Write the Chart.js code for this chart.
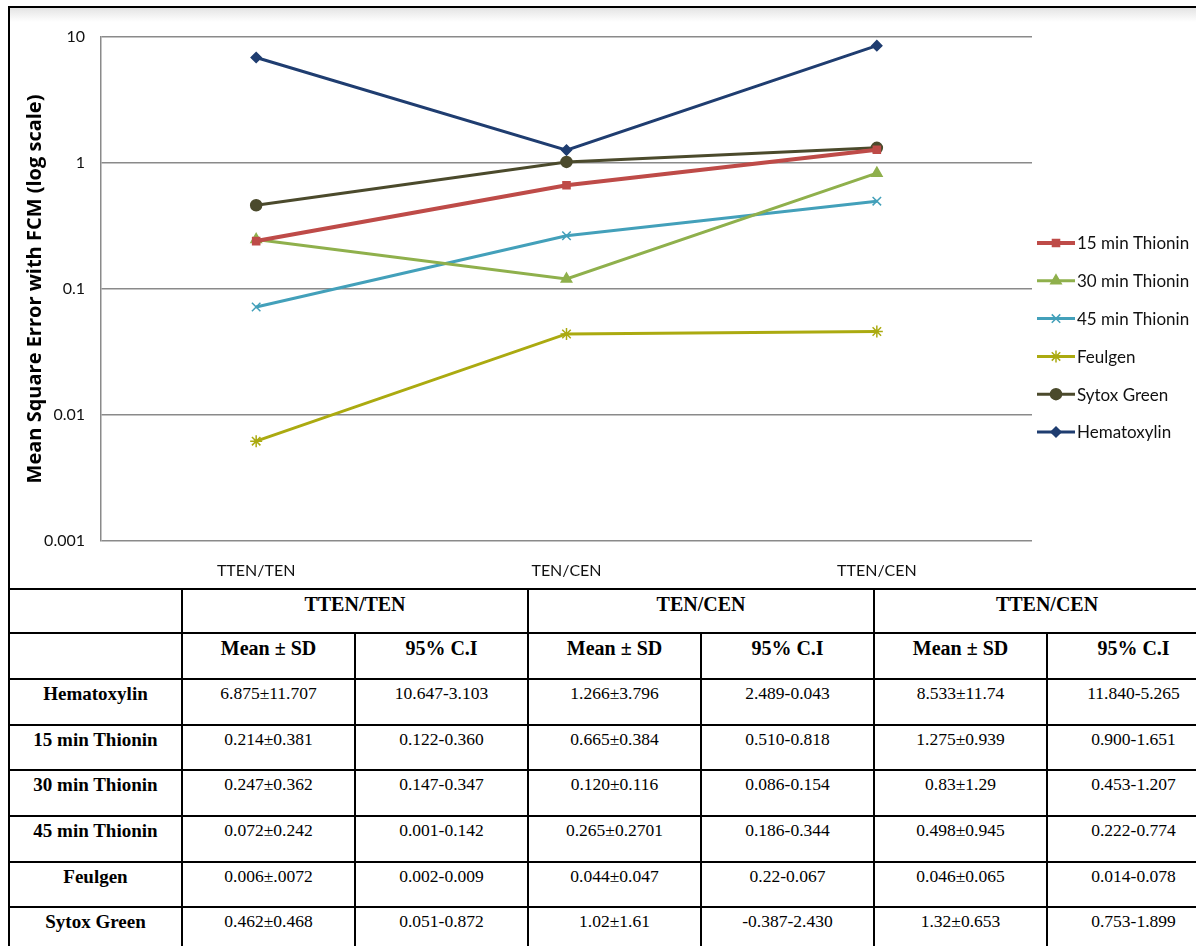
<!DOCTYPE html>
<html>
<head>
<meta charset="utf-8">
<script src="https://cdn.jsdelivr.net/npm/chart.js@4.4.1/dist/chart.umd.min.js"></script>
<style>
  html, body { margin: 0; padding: 0; background: #fff; overflow: hidden; width: 1196px; height: 946px; }
  #wrap { position: absolute; left: 8px; top: 6px; width: 1200px; }
  #chartBox {
    position: relative; width: 1198px; height: 580px;
    border-left: 2px solid #000; border-top: 2px solid #000;
    background: linear-gradient(#e4e4e4 0px, #ffffff 14px);
  }
  #chartBox canvas { position: absolute; left: 0; top: 0; }
  table { border-collapse: collapse; font-family: "Liberation Serif", "Times New Roman", serif; font-size: 17.5px; color: #000; table-layout: fixed; }
  td, th { border: 2px solid #000; text-align: center; vertical-align: top; padding: 3px 2px 0 2px; height: 40px; box-sizing: border-box; }
  th { font-weight: bold; font-size: 20px; }
  td.rowhead { font-weight: bold; font-size: 19px; }
</style>
</head>
<body>
<div id="wrap">
  <div id="chartBox"><canvas id="mseChart" width="1188" height="580"></canvas></div>
  <table id="statsTable"></table>
</div>
<script>
// categories on the x axis
const categories = ['TTEN/TEN', 'TEN/CEN', 'TTEN/CEN'];

// mean square error per stain
const thionin15 = [0.24, 0.665, 1.275];
const thionin30 = [0.247, 0.120, 0.83];
const thionin45 = [0.072, 0.265, 0.498];
const feulgen = [0.0062, 0.044, 0.046];
const sytoxGreen = [0.462, 1.02, 1.32];
const hematoxylin = [6.875, 1.266, 8.533];

// y axis ticks (log scale)
const yTickValues = [0.001, 0.01, 0.1, 1, 10];
const yTickLabels = ['0.001', '0.01', '0.1', '1', '10'];

// table contents
const tableGroups = ['TTEN/TEN', 'TEN/CEN', 'TTEN/CEN'];
const tableRowNames = ['Hematoxylin', '15 min Thionin', '30 min Thionin', '45 min Thionin', 'Feulgen', 'Sytox Green'];
const tableMeanSD = [
    ['6.875±11.707', '1.266±3.796', '8.533±11.74'],
    ['0.214±0.381', '0.665±0.384', '1.275±0.939'],
    ['0.247±0.362', '0.120±0.116', '0.83±1.29'],
    ['0.072±0.242', '0.265±0.2701', '0.498±0.945'],
    ['0.006±.0072', '0.044±0.047', '0.046±0.065'],
    ['0.462±0.468', '1.02±1.61', '1.32±0.653'],
];
const tableCI = [
    ['10.647-3.103', '2.489-0.043', '11.840-5.265'],
    ['0.122-0.360', '0.510-0.818', '0.900-1.651'],
    ['0.147-0.347', '0.086-0.154', '0.453-1.207'],
    ['0.001-0.142', '0.186-0.344', '0.222-0.774'],
    ['0.002-0.009', '0.22-0.067', '0.014-0.078'],
    ['0.051-0.872', '-0.387-2.430', '0.753-1.899'],
];

function buildTable() {
    const colWidths = [173, 173, 173, 173, 173, 173, 173];
    const table = document.getElementById('statsTable');
    const cg = document.createElement('colgroup');
    colWidths.forEach(w => {
        const c = document.createElement('col');
        c.style.width = w + 'px';
        cg.appendChild(c);
    });
    table.appendChild(cg);
    table.style.width = colWidths.reduce((a, b) => a + b, 0) + 'px';

    let tr = document.createElement('tr');
    tr.appendChild(document.createElement('th'));
    tableGroups.forEach(g => {
        const th = document.createElement('th');
        th.colSpan = 2;
        th.textContent = g;
        tr.appendChild(th);
    });
    tr.style.height = '44px';
    table.appendChild(tr);

    tr = document.createElement('tr');
    tr.appendChild(document.createElement('th'));
    tableGroups.forEach(() => {
        ['Mean ± SD', '95% C.I'].forEach(h => {
            const th = document.createElement('th');
            th.textContent = h;
            tr.appendChild(th);
        });
    });
    tr.style.height = '46px';
    table.appendChild(tr);

    tableRowNames.forEach((name, i) => {
        const row = document.createElement('tr');
        row.style.height = '45.7px';
        const h = document.createElement('td');
        h.className = 'rowhead';
        h.textContent = name;
        row.appendChild(h);
        for (let j = 0; j < tableGroups.length; j++) {
            const a = document.createElement('td');
            a.textContent = tableMeanSD[i][j];
            row.appendChild(a);
            const b = document.createElement('td');
            b.textContent = tableCI[i][j];
            row.appendChild(b);
        }
        table.appendChild(row);
    });
}

// legend drawn as line + marker, like the spreadsheet legend
const sideLegend = {
    id: 'sideLegend',
    afterDraw(chart) {
        const ctx = chart.ctx;
        const x0 = 1027, lineLen = 38, yStart = 235, step = 37.8;
        ctx.save();
        chart.data.datasets.forEach((ds, i) => {
            const y = yStart + i * step;
            ctx.strokeStyle = ds.borderColor;
            ctx.lineWidth = ds.borderWidth;
            ctx.beginPath();
            ctx.moveTo(x0, y);
            ctx.lineTo(x0 + lineLen, y);
            ctx.stroke();
            ctx.fillStyle = ds.pointBackgroundColor;
            ctx.strokeStyle = ds.pointBorderColor;
            ctx.lineWidth = ds.pointBorderWidth;
            Chart.helpers.drawPoint(ctx, {pointStyle: ds.pointStyle, radius: ds.pointRadius, rotation: 0, borderWidth: ds.pointBorderWidth}, x0 + lineLen / 2, y);
            ctx.fillStyle = '#111';
            ctx.font = '17px Lato, "Open Sans", sans-serif';
            ctx.textBaseline = 'middle';
            ctx.textAlign = 'left';
            ctx.fillText(ds.label, x0 + lineLen + 2, y + 1);
        });
        ctx.restore();
    }
};

function makeSeries(label, data, color, style, radius, width) {
    return {
        label: label,
        data: data,
        borderColor: color,
        backgroundColor: color,
        borderWidth: width,
        pointStyle: style,
        pointRadius: radius,
        pointBackgroundColor: color,
        pointBorderColor: color,
        pointBorderWidth: 1.5,
        tension: 0,
    };
}

function createChart() {
    const ctx = document.getElementById('mseChart').getContext('2d');
    new Chart(ctx, {
        type: 'line',
        data: {
            labels: categories,
            datasets: [
                makeSeries('15 min Thionin', thionin15, '#BE4B48', 'rect', 5, 4),
                makeSeries('30 min Thionin', thionin30, '#8FB04C', 'triangle', 6, 3),
                makeSeries('45 min Thionin', thionin45, '#43A0BA', 'crossRot', 6, 3),
                makeSeries('Feulgen', feulgen, '#ABAA10', 'star', 6, 3),
                makeSeries('Sytox Green', sytoxGreen, '#4B4A2C', 'circle', 5.5, 3),
                makeSeries('Hematoxylin', hematoxylin, '#1F3D70', 'rectRot', 5, 3),
            ]
        },
        options: {
            responsive: false,
            animation: false,
            layout: { padding: { left: 0, top: 29, right: 166, bottom: 0 } },
            plugins: {
                legend: { display: false },
                tooltip: { enabled: false },
            },
            scales: {
                x: {
                    offset: true,
                    grid: { display: false, drawTicks: false },
                    border: { display: false },
                    ticks: {
                        color: '#111',
                        padding: 20,
                        font: { family: 'Lato, "Open Sans", sans-serif', size: 16 },
                    },
                    afterFit: function(scale) { scale.height = 47; }
                },
                y: {
                    type: 'logarithmic',
                    min: 0.001,
                    max: 10,
                    grid: { color: '#8a8a8a', lineWidth: 1.5, drawTicks: false },
                    border: { color: '#8a8a8a', width: 1.5 },
                    afterBuildTicks: function(scale) {
                        scale.ticks = yTickValues.map(v => ({ value: v }));
                    },
                    ticks: {
                        color: '#111',
                        padding: 16,
                        font: { family: 'Lato, "Open Sans", sans-serif', size: 16 },
                        callback: function(value) {
                            const idx = yTickValues.indexOf(value);
                            return idx >= 0 ? yTickLabels[idx] : '';
                        }
                    },
                    title: {
                        display: true,
                        text: 'Mean Square Error with FCM (log scale)',
                        color: '#000',
                        font: { family: '"Open Sans", Lato, sans-serif', size: 20, weight: 'bold' },
                        padding: { top: 13, bottom: 0 },
                    },
                    afterFit: function(scale) { scale.width = 91; }
                }
            }
        },
        plugins: [sideLegend]
    });
}

buildTable();
createChart();
</script>
</body>
</html>
